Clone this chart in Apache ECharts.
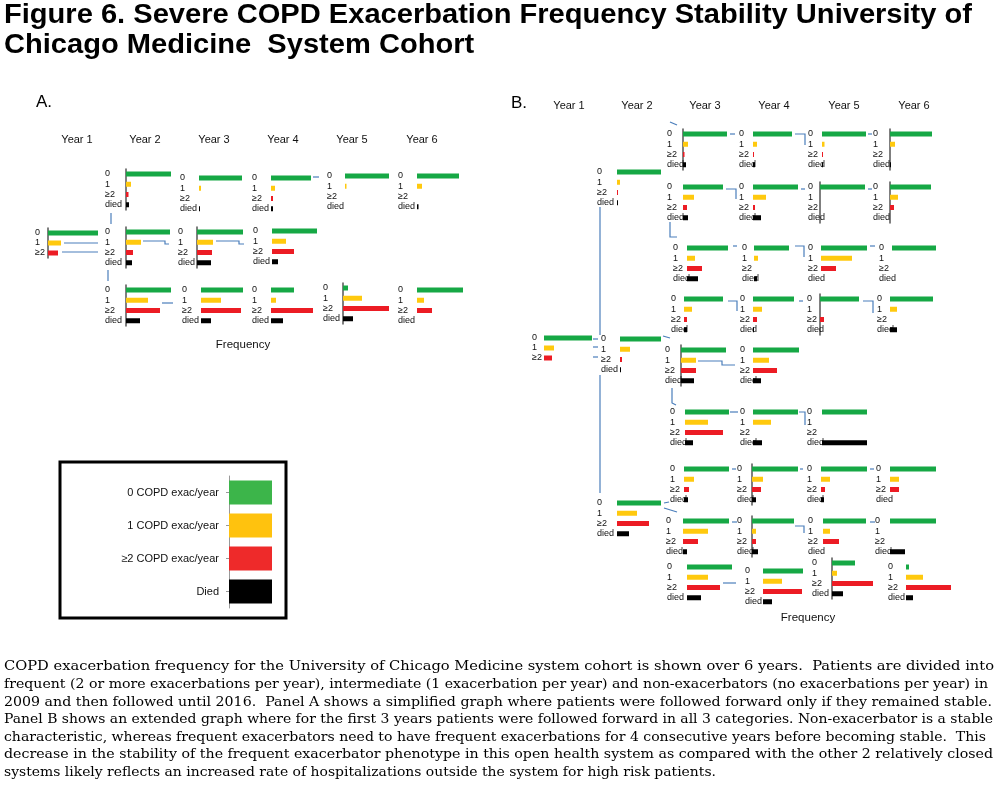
<!DOCTYPE html>
<html><head><meta charset="utf-8">
<script src="https://cdn.jsdelivr.net/npm/echarts@6/dist/echarts.min.js"></script>
<style>html,body{margin:0;padding:0;background:#fff}#c{width:1000px;height:788px}</style>
</head><body><div id="c"></div>
<script>
// ---------- DATA ----------
const rowCats = ['0', '1', '≥2', 'died'];
const year1Cats = ['0', '1', '≥2'];
const yearLabels = ['Year 1', 'Year 2', 'Year 3', 'Year 4', 'Year 5', 'Year 6'];
const legendCats = ['0 COPD exac/year', '1 COPD exac/year', '≥2 COPD exac/year', 'Died'];
const legendVals = [1, 1, 1, 1];
// values: share of patients in each category (0, 1, >=2, died), estimated in %
// Panel A
const A_year1 = [100, 26, 20];
const A_top_y2 = [90, 10, 5, 6];
const A_top_y3 = [86, 4, 0, 2];
const A_top_y4 = [80, 8, 4, 4];
const A_top_y5 = [88, 3, 0, 0];
const A_top_y6 = [84, 10, 0, 3];
const A_mid_y2 = [88, 30, 14, 12];
const A_mid_y3 = [92, 32, 30, 28];
const A_mid_y4 = [90, 28, 44, 12];
const A_bot_y2 = [90, 44, 68, 28];
const A_bot_y3 = [84, 40, 80, 20];
const A_bot_y4 = [46, 10, 84, 24];
const A_bot_y5 = [10, 38, 92, 20];
const A_bot_y6 = [92, 14, 30, 0];
// Panel B
const B_year1 = [96, 20, 16];
const B_y2_top = [88, 6, 2, 2];
const B_y2_mid = [82, 20, 4, 2];
const B_y2_bot = [88, 40, 64, 24];
const B_r1 = [[88, 10, 3, 6], [78, 8, 2, 4], [88, 5, 2, 2], [84, 10, 0, 2]];
const B_r2 = [[80, 22, 8, 10], [90, 26, 4, 16], [90, 0, 0, 0], [82, 16, 8, 0]];
const B_r3 = [[82, 16, 30, 22], [70, 8, 0, 6], [92, 62, 30, 0], [88, 0, 0, 0]];
const B_r4 = [[78, 16, 6, 6], [82, 18, 8, 2], [78, 0, 8, 0], [86, 14, 0, 14]];
const B_r5 = [[90, 30, 30, 26], [92, 32, 48, 16]];
const B_r6 = [[88, 46, 76, 16], [90, 36, 0, 18], [90, 0, 0, 90]];
const B_r7 = [[90, 20, 10, 8], [92, 22, 18, 8], [92, 18, 8, 6], [92, 18, 18, 0]];
const B_r8 = [[92, 50, 30, 8], [84, 8, 8, 12], [86, 14, 32, 0], [92, 0, 0, 30]];
const B_r9 = [[90, 42, 66, 28], [80, 38, 78, 18], [46, 10, 82, 22], [6, 34, 90, 14]];

const captionLines = [
  'COPD exacerbation frequency for the University of Chicago Medicine system cohort is shown over 6 years.  Patients are divided into',
  'frequent (2 or more exacerbations per year), intermediate (1 exacerbation per year) and non-exacerbators (no exacerbations per year) in',
  '2009 and then followed until 2016.  Panel A shows a simplified graph where patients were followed forward only if they remained stable.',
  'Panel B shows an extended graph where for the first 3 years patients were followed forward in all 3 categories. Non-exacerbator is a stable',
  'characteristic, whereas frequent exacerbators need to have frequent exacerbations for 4 consecutive years before becoming stable.  This',
  'decrease in the stability of the frequent exacerbator phenotype in this open health system as compared with the other 2 relatively closed',
  'systems likely reflects an increased rate of hospitalizations outside the system for high risk patients.'
];
const titleLines = ['Figure 6. Severe COPD Exacerbation Frequency Stability University of', 'Chicago Medicine  System Cohort'];

// ---------- LAYOUT (positions only) ----------
const captionEnds = [994, 988, 992, 993, 986, 993, 716];   // right end x of each caption line
// [values, barStartX, labelX, row0Y, showAxisLine]
const layout = [
  [A_year1, 48, 35, 233, true],
  [A_top_y2, 126, 105, 174, true], [A_top_y3, 199, 180, 178, false], [A_top_y4, 271, 252, 178, false],
  [A_top_y5, 345, 327, 176, false], [A_top_y6, 417, 398, 176, false],
  [A_mid_y2, 126, 105, 232, true], [A_mid_y3, 197, 178, 232, true], [A_mid_y4, 272, 253, 231, false],
  [A_bot_y2, 126, 105, 290, true], [A_bot_y3, 201, 182, 290, false], [A_bot_y4, 271, 252, 290, false],
  [A_bot_y5, 343, 323, 288, true], [A_bot_y6, 417, 398, 290, false],
  [B_year1, 544, 532, 338, false],
  [B_y2_top, 617, 597, 172, false], [B_y2_mid, 620, 601, 339, false], [B_y2_bot, 617, 597, 503, false],
  [B_r1[0], 683, 667, 134, true], [B_r1[1], 753, 739, 134, false], [B_r1[2], 822, 808, 134, false], [B_r1[3], 890, 873, 134, true],
  [B_r2[0], 683, 667, 187, false], [B_r2[1], 753, 739, 187, false], [B_r2[2], 820, 808, 187, true], [B_r2[3], 890, 873, 187, true],
  [B_r3[0], 687, 673, 248, false], [B_r3[1], 754, 742, 248, false], [B_r3[2], 821, 808, 248, false], [B_r3[3], 892, 879, 248, false],
  [B_r4[0], 684, 671, 299, false], [B_r4[1], 753, 740, 299, false], [B_r4[2], 820, 807, 299, true], [B_r4[3], 890, 877, 299, false],
  [B_r5[0], 681, 665, 350, true], [B_r5[1], 753, 740, 350, false],
  [B_r6[0], 685, 670, 412, false], [B_r6[1], 753, 740, 412, false], [B_r6[2], 822, 807, 412, false],
  [B_r7[0], 684, 670, 469, false], [B_r7[1], 752, 737, 469, true], [B_r7[2], 821, 807, 469, false], [B_r7[3], 890, 876, 469, false],
  [B_r8[0], 683, 666, 521, false], [B_r8[1], 752, 737, 521, true], [B_r8[2], 823, 808, 521, false], [B_r8[3], 890, 875, 521, false],
  [B_r9[0], 687, 667, 567, false], [B_r9[1], 763, 745, 571, false], [B_r9[2], 832, 812, 563, true], [B_r9[3], 906, 888, 567, false]
];
const connectors = [
  [[111,213],[111,224]], [[108,270],[108,281]], [[64,243],[98,243]], [[62,252],[98,252]],
  [[143,241],[165,241],[165,244],[169,244]], [[216,241],[239,241],[239,244],[244,244]],
  [[162,303],[173,303]], [[313,177],[319,177]],
  [[600,207],[600,335]], [[600,375],[600,493]],
  [[593,339],[598,339]], [[593,347],[598,347]], [[593,357],[598,357]],
  [[663,336],[670,338]], [[672,388],[672,403],[676,405]],
  [[698,361],[722,361],[722,365],[735,365]], [[730,412],[738,412]], [[799,412],[805,412],[805,425]],
  [[670,122],[677,125]], [[730,134],[735,134]], [[795,134],[805,134],[805,145]], [[868,134],[872,134]],
  [[726,189],[736,189],[736,199]], [[801,189],[805,189]], [[868,189],[872,189]],
  [[670,222],[670,237],[677,237]],
  [[733,246],[737,246]], [[795,246],[804,246],[804,257]], [[870,246],[875,246]],
  [[728,301],[737,301],[737,311]], [[799,301],[803,301]], [[863,301],[873,301],[873,313]],
  [[732,469],[736,469]], [[800,469],[803,469]], [[870,469],[874,469]],
  [[732,522],[737,522]], [[795,526],[804,526],[804,533]], [[870,522],[875,522]],
  [[664,503],[669,502]], [[664,508],[677,512]], [[723,583],[736,583]]
];

// ---------- STYLE ----------
const barColors = ['#16a845', '#ffc90e', '#ec1c24', '#000000'];
const legendColors = ['#3cb54a', '#ffc20e', '#ee2a2a', '#000000'];
const FONT = 'Liberation Sans, Arial, sans-serif';
const CAP_FONT = '13px "DejaVu Serif", serif';

const grid = [], xAxis = [], yAxis = [], series = [];
layout.forEach((L, i) => {
  const [vals, left, labelX, y0, axisOn] = L;
  const n = vals.length;
  const pitch = n === 4 ? 10.25 : 10;
  const h = pitch * n;
  grid.push({ left: left, top: y0 - pitch / 2, width: 50, height: h });
  xAxis.push({ gridIndex: i, type: 'value', min: 0, max: 100, show: false });
  yAxis.push({
    gridIndex: i, type: 'category', inverse: true, data: n === 4 ? rowCats : year1Cats,
    axisLine: { show: axisOn, lineStyle: { color: '#555', width: 1.5 } },
    axisTick: { show: false },
    axisLabel: { interval: 0, align: 'left', margin: left - labelX, fontSize: 9, color: '#111', fontFamily: FONT }
  });
  series.push({
    type: 'bar', xAxisIndex: i, yAxisIndex: i, barWidth: 5, silent: true, animation: false,
    data: vals.map((v, j) => ({ value: v, itemStyle: { color: barColors[j] } }))
  });
});
// legend as a small bar chart
const li = layout.length;
grid.push({ left: 229, top: 476, width: 43, height: 132 });
xAxis.push({ gridIndex: li, type: 'value', min: 0, max: 1, show: false });
yAxis.push({
  gridIndex: li, type: 'category', inverse: true, data: legendCats,
  axisLine: { show: true, lineStyle: { color: '#999', width: 1 } },
  axisTick: { show: true, alignWithLabel: true, length: 3, lineStyle: { color: '#999' } },
  axisLabel: { interval: 0, fontSize: 11, color: '#111', margin: 10, fontFamily: FONT }
});
series.push({
  type: 'bar', xAxisIndex: li, yAxisIndex: li, barWidth: 24, silent: true, animation: false,
  data: legendVals.map((v, j) => ({ value: v, itemStyle: { color: legendColors[j] } }))
});

const graphic = [];
titleLines.forEach((t, k) => graphic.push({ type: 'text', x: 4, y: 2 + k * 30, scaleX: 1.077,
  style: { text: t, font: 'bold 27px ' + FONT, fill: '#000' } }));
graphic.push({ type: 'text', left: 36, top: 94, style: { text: 'A.', font: '17px ' + FONT, fill: '#000' } });
graphic.push({ type: 'text', left: 511, top: 95, style: { text: 'B.', font: '17px ' + FONT, fill: '#000' } });
const yrA = [77, 145, 214, 283, 352, 422], yrB = [569, 637, 705, 774, 844, 914];
yearLabels.forEach((t, k) => {
  graphic.push({ type: 'text', x: yrA[k], y: 140, style: { text: t, font: '11px ' + FONT, fill: '#111', textAlign: 'center', textVerticalAlign: 'middle' } });
  graphic.push({ type: 'text', x: yrB[k], y: 106, style: { text: t, font: '11px ' + FONT, fill: '#111', textAlign: 'center', textVerticalAlign: 'middle' } });
});
graphic.push({ type: 'text', x: 243, y: 345, style: { text: 'Frequency', font: '11.5px ' + FONT, fill: '#111', textAlign: 'center', textVerticalAlign: 'middle' } });
graphic.push({ type: 'text', x: 808, y: 618, style: { text: 'Frequency', font: '11.5px ' + FONT, fill: '#111', textAlign: 'center', textVerticalAlign: 'middle' } });
graphic.push({ type: 'rect', shape: { x: 60, y: 462, width: 226, height: 156 }, style: { fill: 'none', stroke: '#000', lineWidth: 3 } });
connectors.forEach(p => graphic.push({ type: 'polyline', shape: { points: p }, style: { fill: 'none', stroke: '#4a7ebb', lineWidth: 1.2 } }));
const mctx = document.createElement('canvas').getContext('2d');
mctx.font = CAP_FONT;
captionLines.forEach((t, k) => {
  const w = mctx.measureText(t).width;
  graphic.push({ type: 'text', x: 4, y: 667 + k * 17.6, scaleX: (captionEnds[k] - 4) / w,
    style: { text: t, font: CAP_FONT, fill: '#000', textVerticalAlign: 'middle' } });
});

const chart = echarts.init(document.getElementById('c'), null, { renderer: 'canvas' });
chart.setOption({ animation: false, backgroundColor: '#fff', grid, xAxis, yAxis, series, graphic });
</script></body></html>
